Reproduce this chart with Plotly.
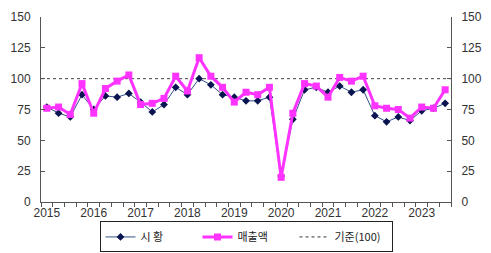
import plotly.graph_objects as go

quarters = [f"{y}Q{q}" for y in range(2015, 2024) for q in range(1, 5)][:35]
market = [77, 72, 69, 87, 75, 86, 85, 88, 81, 73, 79, 93, 87, 100, 95, 87,
          85, 82, 82, 85, 21, 67, 91, 93, 89, 94, 89, 91, 70, 65, 69, 66,
          74, 76, 80]
sales = [76, 77, 71, 96, 72, 92, 98, 103, 79, 80, 84, 102, 90, 117, 102, 93,
         81, 89, 87, 93, 20, 72, 96, 94, 85, 101, 98, 102, 78, 76, 75, 68,
         77, 76, 91]
baseline = 100
year_labels = [str(y) for y in range(2015, 2024)]
year_pos = [i for i, q in enumerate(quarters) if q.endswith("Q1")]
xidx = list(range(len(quarters)))

fig = go.Figure()
fig.add_trace(go.Scatter(
    x=xidx, y=market, name="시 황", mode="lines+markers",
    line=dict(color="#34508a", width=1),
    marker=dict(symbol="diamond", size=6, color="#0a1450"),
))
fig.add_trace(go.Scatter(
    x=xidx, y=sales, name="매출액", mode="lines+markers",
    line=dict(color="#ff33ff", width=3),
    marker=dict(symbol="square", size=7, color="#ff33ff"),
))
fig.add_trace(go.Scatter(
    x=[None], y=[None], name="기준(100)", mode="lines", yaxis="y2",
    line=dict(color="#333333", width=1, dash="dot"),
))
fig.add_shape(type="line", xref="paper", x0=0, x1=1, yref="y",
              y0=baseline, y1=baseline,
              line=dict(color="#444444", width=1, dash="dot"), layer="below")

tickfont = dict(family="Liberation Sans, Arial, sans-serif", size=12, color="#333333")
fig.update_layout(
    width=491, height=253,
    margin=dict(l=41, r=40, t=17, b=51, autoexpand=False),
    paper_bgcolor="white", plot_bgcolor="white",
    showlegend=True,
    legend=dict(
        orientation="h", x=0.5, xanchor="center", y=-0.105, yanchor="top",
        bordercolor="#222222", borderwidth=1, bgcolor="white",
        font=dict(family="Noto Sans CJK KR, sans-serif", size=11, color="#222222"),
        itemwidth=30, tracegroupgap=0, entrywidth=52, entrywidthmode="pixels",
    ),
    xaxis=dict(
        range=[-0.5, len(quarters) - 0.5], tickmode="array",
        tickvals=year_pos, ticktext=year_labels, ticks="",
        showline=True, linecolor="#555555", linewidth=1,
        showgrid=False, zeroline=False, tickfont=tickfont,
        minor=dict(tickmode="linear", tick0=-0.5, dtick=1, ticks="outside",
                   ticklen=4, tickcolor="#555555", showgrid=False),
    ),
    yaxis=dict(
        range=[0, 150], dtick=25, ticks="inside", ticklen=4, tickcolor="#555555",
        showline=True, linecolor="#555555", linewidth=1, ticklabelstandoff=7,
        showgrid=False, zeroline=False, tickfont=tickfont,
    ),
    yaxis2=dict(
        range=[0, 150], dtick=25, ticks="inside", ticklen=4, tickcolor="#555555",
        overlaying="y", side="right", ticklabelstandoff=7,
        showline=True, linecolor="#555555", linewidth=1,
        showgrid=False, zeroline=False, tickfont=tickfont,
    ),
)

fig.write_html("out.html")
